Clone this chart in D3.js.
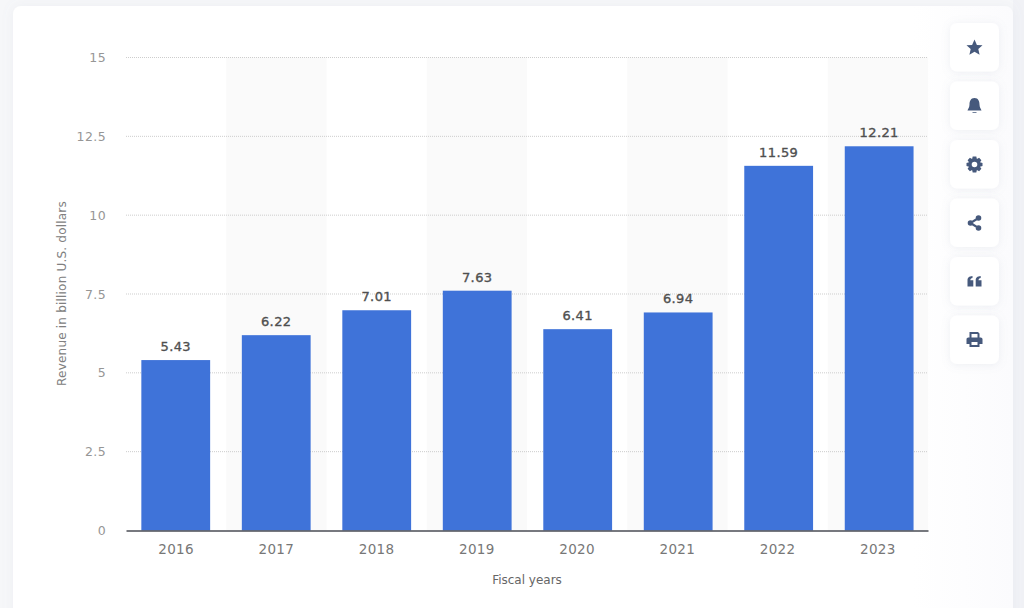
<!DOCTYPE html>
<html lang="en">
<head>
<meta charset="UTF-8">
<title>Revenue in billion U.S. dollars</title>
<script src="https://cdn.jsdelivr.net/npm/d3@7"></script>
<style>
    html,body{margin:0;padding:0;background:#f6f7f9;}
    svg{display:block;}
    text{font-family:"DejaVu Sans",sans-serif;}
    .axis path,.axis line{fill:none;}
    .tick text{letter-spacing:.4px;}
</style>
</head>
<body>
<script>
// data
var years = ["2016","2017","2018","2019","2020","2021","2022","2023"];
var revenue = [5.43,6.22,7.01,7.63,6.41,6.94,11.59,12.21];
var yTicks = [0,2.5,5,7.5,10,12.5,15];
var yTitle = "Revenue in billion U.S. dollars";
var xTitle = "Fiscal years";

var width = 1024, height = 608;
var plotL = 126, plotR = 928, plotT = 57.5, plotB = 530.5;

var svg = d3.select("body").append("svg")
    .attr("width",width)
    .attr("height",height);

var defs = svg.append("defs");
var soft = defs.append("filter").attr("id","soft").attr("x","-30%").attr("y","-30%").attr("width","160%").attr("height","160%");
soft.append("feDropShadow").attr("dx",0).attr("dy",1).attr("stdDeviation",4).attr("flood-color","#8a94ad").attr("flood-opacity",0.14);
var wide = defs.append("filter").attr("id","wide").attr("x","-5%").attr("y","-5%").attr("width","110%").attr("height","110%");
wide.append("feDropShadow").attr("dx",0).attr("dy",0).attr("stdDeviation",6).attr("flood-color","#8a94ad").attr("flood-opacity",0.09);
var fade = defs.append("linearGradient").attr("id","fade");
fade.append("stop").attr("offset","0.9").attr("stop-color","#fff");
fade.append("stop").attr("offset","1").attr("stop-color","#fbfbfd");

// card behind the chart, the strip right of it is a little darker
svg.append("rect").attr("x",1013).attr("y",0).attr("width",11).attr("height",height).attr("fill","#f1f2f6");
svg.append("rect").attr("x",13).attr("y",6).attr("width",1000).attr("height",640).attr("rx",8)
    .attr("fill","url(#fade)").attr("filter","url(#wide)");

var x = d3.scaleBand().domain(years).range([plotL,plotR]);
var y = d3.scaleLinear().domain([0,15]).range([plotB,plotT]);
// bars sit a touch off the grid in the picture, they get their own scales
var xBar = d3.scaleBand().domain(years).range([125.5,929.4]);
var yBar = d3.scaleLinear().domain([0,15]).range([plotB+0.8,plotT+0.8]);
var barW = 68.8;

// alternating column stripes
svg.append("g").selectAll("rect")
    .data(years.filter(function(d,i){return i%2==1;}))
    .enter().append("rect")
    .attr("x",function(d){return x(d);})
    .attr("y",plotT)
    .attr("width",x.bandwidth())
    .attr("height",plotB-plotT)
    .attr("fill","#fafafa");

// y axis + dotted grid
var yAxis = d3.axisLeft(y).tickValues(yTicks).tickSize(0).tickPadding(20)
    .tickFormat(function(d){return String(d);});
var gy = svg.append("g").attr("class","axis")
    .attr("transform","translate("+plotL+",0)")
    .call(yAxis);
gy.select(".domain").remove();
gy.selectAll("text").attr("fill","#969696").attr("font-size",12.5);

svg.append("g").selectAll("line")
    .data(yTicks.filter(function(d){return d>0;}))
    .enter().append("line")
    .attr("x1",plotL).attr("x2",plotR)
    .attr("y1",function(d){return y(d);})
    .attr("y2",function(d){return y(d);})
    .attr("stroke","#cdcdcd")
    .attr("stroke-dasharray","1,1");

// bars
svg.append("g").selectAll("rect")
    .data(revenue)
    .enter().append("rect")
    .attr("x",function(d,i){return xBar(years[i])+(xBar.bandwidth()-barW)/2;})
    .attr("y",function(d){return yBar(d);})
    .attr("width",barW)
    .attr("height",function(d){return plotB-yBar(d);})
    .attr("fill","#3f73d9");

// value labels
svg.append("g").selectAll("text")
    .data(revenue)
    .enter().append("text")
    .attr("x",function(d,i){return xBar(years[i])+xBar.bandwidth()/2;})
    .attr("y",function(d){return yBar(d)-9;})
    .attr("text-anchor","middle")
    .attr("font-size",13)
    .attr("letter-spacing",".4px")
    .attr("fill","#4f4f4f")
    .attr("stroke","#4f4f4f")
    .attr("stroke-width",0.35)
    .text(function(d){return d.toFixed(2);});

// x axis
var xAxis = d3.axisBottom(x).tickSize(0).tickPadding(14);
var gx = svg.append("g").attr("class","axis")
    .attr("transform","translate(0,"+plotB+")")
    .call(xAxis);
gx.select(".domain").attr("stroke","#4a4d55").attr("stroke-width",1.4);
gx.selectAll("text").attr("fill","#777").attr("font-size",13.5);

// axis titles
svg.append("text")
    .attr("transform","translate(62,293.5) rotate(-90)")
    .attr("text-anchor","middle")
    .attr("font-size",12)
    .attr("letter-spacing",".2px")
    .attr("fill","#808080")
    .attr("dy",".35em")
    .text(yTitle);
svg.append("text")
    .attr("x",(plotL+plotR)/2)
    .attr("y",584)
    .attr("text-anchor","middle")
    .attr("font-size",12)
    .attr("fill","#666")
    .text(xTitle);

// side buttons
var icons = [
  // star
  "M0,-8 L2.4,-2.6 L8,-2.2 L3.8,1.5 L5.1,7.2 L0,4.2 L-5.1,7.2 L-3.8,1.5 L-8,-2.2 L-2.4,-2.6 Z",
  // bell
  "M0,-8 C4,-8 5,-4.5 5,-1.5 C5,1.5 6.5,3 7,4.5 L-7,4.5 C-6.5,3 -5,1.5 -5,-1.5 C-5,-4.5 -4,-8 0,-8 Z M-2,6.2 L2,6.2 L2,7 L-2,7 Z",
  // gear
  "M-1.8,-8 L1.8,-8 L2.4,-5.6 L4.6,-6.7 L6.9,-4.2 L5.5,-2.2 L8,-1.6 L8,1.6 L5.5,2.2 L6.9,4.2 L4.6,6.7 L2.4,5.6 L1.8,8 L-1.8,8 L-2.4,5.6 L-4.6,6.7 L-6.9,4.2 L-5.5,2.2 L-8,1.6 L-8,-1.6 L-5.5,-2.2 L-6.9,-4.2 L-4.6,-6.7 L-2.4,-5.6 Z M0,-2.8 A2.8,2.8 0 1 0 0,2.8 A2.8,2.8 0 1 0 0,-2.8 Z",
  // share
  "M6.8,-5 A2.8,2.8 0 1 1 1.2,-5 A2.8,2.8 0 1 1 6.8,-5 Z M-1.2,0 A2.8,2.8 0 1 1 -6.8,0 A2.8,2.8 0 1 1 -1.2,0 Z M6.8,5 A2.8,2.8 0 1 1 1.2,5 A2.8,2.8 0 1 1 6.8,5 Z M-4.5,-0.9 L3.5,-5.9 L4.5,-4.1 L-3.5,0.9 Z M-3.5,-0.9 L4.5,4.1 L3.5,5.9 L-4.5,0.9 Z",
  // quotes
  "M-7,-1 C-7,-4 -5.5,-5 -2,-5.5 L-2,-3.5 C-3.5,-3.2 -4.2,-2.6 -4.2,-1.2 L-1.2,-1.2 L-1.2,5 L-7,5 Z M1.2,-1 C1.2,-4 2.7,-5 6.2,-5.5 L6.2,-3.5 C4.7,-3.2 4,-2.6 4,-1.2 L7,-1.2 L7,5 L1.2,5 Z",
  // printer
  "M-5,-8 L3.5,-8 L5,-6.5 L5,-2.5 L6.2,-2.5 C7.2,-2.5 8,-1.7 8,-0.7 L8,4 L5,4 L5,7 L-5,7 L-5,4 L-8,4 L-8,-0.7 C-8,-1.7 -7.2,-2.5 -6.2,-2.5 L-5,-2.5 Z M-3,-6 L-3,-2.5 L3,-2.5 L3,-6 Z M-3,2 L-3,5 L3,5 L3,2 Z"
];
var btnY = [23,81.5,140,198.5,257,315.5];
var btns = svg.append("g").selectAll("g")
    .data(icons)
    .enter().append("g")
    .attr("transform",function(d,i){return "translate(950,"+btnY[i]+")";});
btns.append("rect")
    .attr("width",49)
    .attr("height",48.5)
    .attr("rx",7)
    .attr("fill","#fff")
    .attr("filter","url(#soft)");
btns.append("path")
    .attr("transform","translate(24.5,24.5)")
    .attr("d",function(d){return d;})
    .attr("fill","#46597c");
</script>
</body>
</html>
